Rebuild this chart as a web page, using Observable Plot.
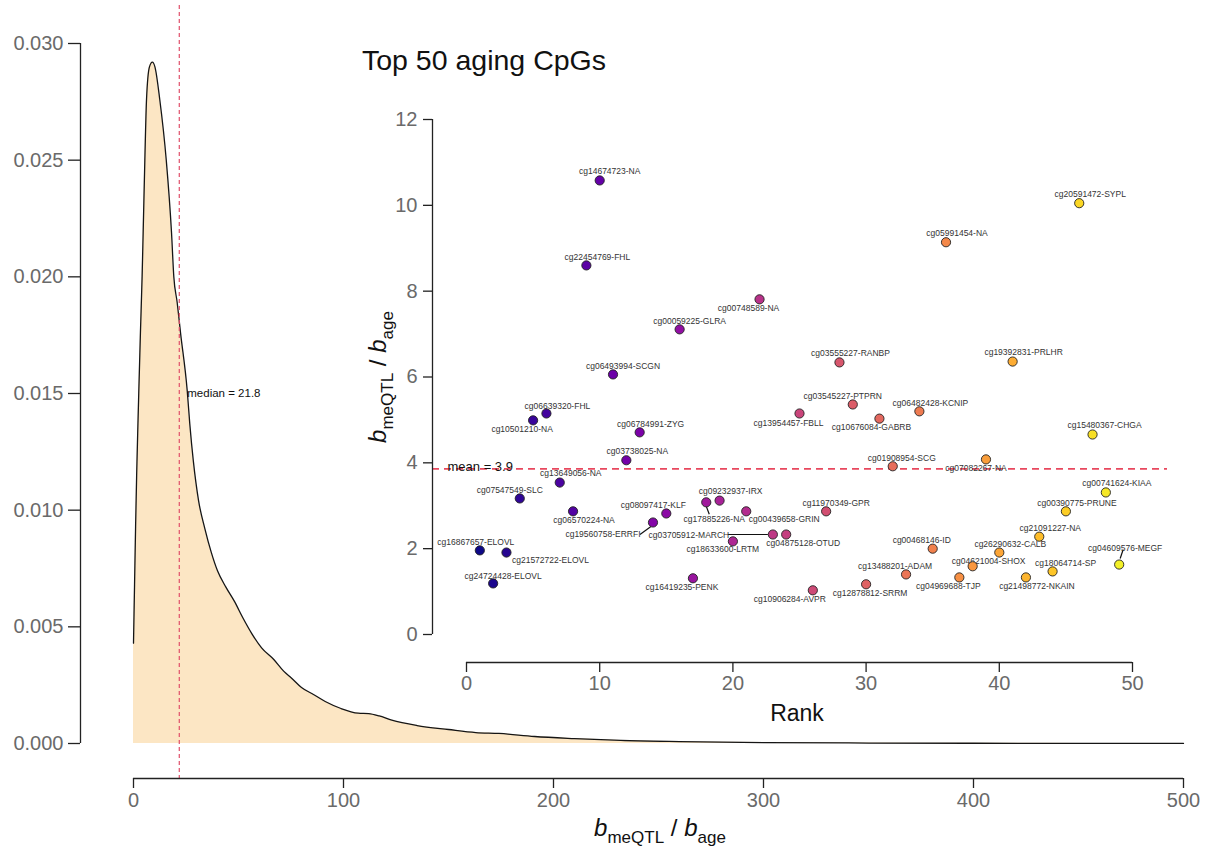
<!DOCTYPE html>
<html>
<head>
<meta charset="utf-8">
<script src="https://cdn.jsdelivr.net/npm/d3@7"></script>
<script src="https://cdn.jsdelivr.net/npm/@observablehq/plot@0.6"></script>
<style>
  body { margin: 0; background: #fff; }
  #wrap { position: relative; width: 1217px; height: 854px; overflow: hidden;
          font-family: "Liberation Sans", Arial, Helvetica, sans-serif; }
  #wrap svg { position: absolute; left: 0; top: 0; }
  .lbl { position: absolute; white-space: nowrap; color: #111; }
  .lbl sub { font-size: 17px; vertical-align: -7px; line-height: 0; }
  .lbl i { font-style: italic; }
</style>
</head>
<body>
<div id="wrap">
  <div class="lbl" id="xTitle" style="left:660px; top:816px; font-size:24px; line-height:24px; transform:translateX(-50%);"><i>b</i><sub>meQTL</sub> / <i>b</i><sub>age</sub></div>
  <div class="lbl" id="insetTitle" style="left:362px; top:46px; font-size:28.5px; line-height:28px;">Top 50 aging CpGs</div>
  <div class="lbl" id="insetYTitle" style="left:378px; top:377px; font-size:24px; line-height:24px; transform:translate(-50%,-50%) rotate(-90deg);"><i>b</i><sub>meQTL</sub> / <i>b</i><sub>age</sub></div>
  <div class="lbl" id="insetXTitle" style="left:797px; top:713px; font-size:23px; line-height:23px; transform:translate(-50%,-50%);">Rank</div>
</div>
<script>
const FONT = '"Liberation Sans", Arial, Helvetica, sans-serif';

// Genome-wide distribution of b_meQTL / b_age (kernel density)
const densityX = [0, 0.5, 1, 1.5, 2, 2.5, 3.3, 4.1, 4.6, 5.4, 6.2, 7.6, 9, 10.2, 12.5, 15.6, 18.1, 19.2,
  20.8, 22.4, 25.6, 26.8, 28.5, 31, 34, 37, 40, 44, 48, 52, 56.4, 61, 66.8, 71.5, 75.3, 80, 85.7, 91.3, 98.8,
  107, 112, 117, 123, 135, 150, 163, 174, 191, 210, 232, 260, 300, 350, 400, 450, 500];
const densityY = [0.0043, 0.0068, 0.0093, 0.0115, 0.0133, 0.0150, 0.0176, 0.0200, 0.0219, 0.0250, 0.0276,
  0.0290, 0.0292, 0.0290, 0.0276, 0.0250, 0.0219, 0.0200, 0.0189, 0.0176, 0.0151, 0.0137, 0.0121, 0.0104,
  0.0092, 0.0082, 0.0074, 0.0067, 0.0061, 0.0054, 0.0047, 0.0041, 0.0036, 0.0031, 0.0028, 0.0024, 0.0021,
  0.0018, 0.0015, 0.0013, 0.00128, 0.00118, 0.0010, 0.00077, 0.0006, 0.00047, 0.00043, 0.0003, 0.00021,
  0.00013, 0.00008, 0.00004, 0.00002, 0.00001, 0.000005, 0.000002];
const medianRatio = 21.8;
const densityXTicks = [0, 100, 200, 300, 400, 500];
const densityYTicks = [0, 0.005, 0.010, 0.015, 0.020, 0.025, 0.030];

// Top 50 aging CpGs, ordered by rank
const ranks = [1, 2, 3, 4, 5, 6, 7, 8, 9, 10, 11, 12, 13, 14, 15, 16, 17, 18, 19, 20, 21, 22, 23, 24, 25,
  26, 27, 28, 29, 30, 31, 32, 33, 34, 35, 36, 37, 38, 39, 40, 41, 42, 43, 44, 45, 46, 47, 48, 49];
const cpgIds = ["cg16867657", "cg24724428", "cg21572722", "cg07547549", "cg10501210", "cg06639320",
  "cg13649056", "cg06570224", "cg22454769", "cg14674723", "cg06493994", "cg03738025", "cg06784991",
  "cg19560758", "cg08097417", "cg00059225", "cg16419235", "cg17885226", "cg09232937", "cg18633600",
  "cg00439658", "cg00748589", "cg03705912", "cg04875128", "cg13954457", "cg10906284", "cg11970349",
  "cg03555227", "cg03545227", "cg12878812", "cg10676084", "cg01908954", "cg13488201", "cg06482428",
  "cg00468146", "cg05991454", "cg04969688", "cg04621004", "cg07082267", "cg26290632", "cg19392831",
  "cg21498772", "cg21091227", "cg18064714", "cg00390775", "cg20591472", "cg15480367", "cg00741624",
  "cg04609576"];
const genes = ["ELOVL", "ELOVL", "ELOVL", "SLC", "NA", "FHL", "NA", "NA", "FHL", "NA", "SCGN", "NA", "ZYG",
  "ERRFI", "KLF", "GLRA", "PENK", "NA", "IRX", "LRTM", "GRIN", "NA", "MARCH", "OTUD", "FBLL", "AVPR", "GPR",
  "RANBP", "PTPRN", "SRRM", "GABRB", "SCG", "ADAM", "KCNIP", "ID", "NA", "TJP", "SHOX", "NA", "CALB", "PRLHR",
  "NKAIN", "NA", "SP", "PRUNE", "SYPL", "CHGA", "KIAA", "MEGF"];
const ratios = [1.96, 1.19, 1.91, 3.17, 4.99, 5.15, 3.54, 2.87, 8.60, 10.58, 6.06, 4.06, 4.71, 2.61, 2.82,
  7.11, 1.31, 3.08, 3.12, 2.17, 2.87, 7.81, 2.33, 2.33, 5.15, 1.03, 2.87, 6.34, 5.36, 1.17, 5.03, 3.92,
  1.40, 5.20, 2.00, 9.14, 1.33, 1.59, 4.08, 1.91, 6.36, 1.33, 2.28, 1.47, 2.87, 10.05, 4.66, 3.31, 1.63];
const meanRatio = 3.86;
const rankTicks = [0, 10, 20, 30, 40, 50];
const ratioTicks = [0, 2, 4, 6, 8, 10, 12];

// Label placement: pixel offset of each label centre from its point
const labelNudge = [[-4, -8], [10, -7], [44, 8], [-10, -8], [-11, 9], [11, -7], [11, -9], [11, 9], [11, -8],
  [10, -9], [10, -8], [11, -9], [11, -8], [-50, 12], [-13, -8], [10, -8], [-11, 9], [8, 17], [11, -9],
  [-10, 8], [38, 8], [-11, 9], [-84, 1], [17, 9], [-11, 10], [-23, 9], [10, -8], [11, -9], [-10, -8],
  [4, 9], [-8, 9], [9, -8], [-11, -8], [11, -8], [-11, -8], [11, -9], [-11, 9], [16, -5], [-10, 9],
  [11, -8], [11, -9], [11, 9], [11, -8], [13, -8], [11, -8], [11, -9], [12, -9], [11, -9], [6, -16]];
// Leader lines for displaced labels: rank, then pixel offsets of both ends from the point
const leaders = [[14, -2, 4, -13, 12], [18, 0, 4, 3, 12], [23, -45, 0, -5, 0], [49, 1, -6, 4, -15]];

const wrap = document.getElementById("wrap");

// ---------- main panel: density ----------
const density = densityX.map((x, i) => ({x, y: densityY[i]}));
const main = Plot.plot({
  width: 1217, height: 854,
  marginLeft: 80, marginRight: 34, marginTop: 5, marginBottom: 76,
  style: {background: "transparent", fontFamily: FONT, overflow: "visible"},
  x: {domain: [0, 500], range: [133, 1183]},
  y: {domain: [0, 0.03], range: [743, 43]},
  marks: [
    Plot.areaY(density, {x: "x", y: "y", fill: "#fce6c4", curve: "monotone-x"}),
    Plot.line(density, {x: "x", y: "y", stroke: "#151515", strokeWidth: 1.3, curve: "monotone-x"}),
    Plot.ruleX([medianRatio], {stroke: "#e0506a", strokeWidth: 1.2, strokeDasharray: "4,3"}),
    Plot.text([medianRatio], {x: d => d, y: d3.max(densityYTicks) / 2, text: d => `median = ${d}`,
      dx: 8, textAnchor: "start", fontSize: 11.5, fill: "#111"}),
    Plot.ruleX([0], {y1: 0, y2: d3.max(densityYTicks), dx: -53, stroke: "#222", strokeWidth: 1.3}),
    Plot.axisY({ticks: densityYTicks, tickFormat: d3.format(".3f"), tickSize: 12, tickPadding: 5,
      fontSize: 20, label: null, stroke: "#222", strokeWidth: 1.3, fill: "#6a6a6a"}),
    Plot.ruleY([0], {x1: 0, x2: d3.max(densityXTicks), dy: 35, stroke: "#222", strokeWidth: 1.3}),
    Plot.axisX({ticks: densityXTicks, tickSize: 10, tickPadding: 4, fontSize: 20, label: null,
      stroke: "#222", strokeWidth: 1.3, fill: "#6a6a6a"})
  ]
});
wrap.insertBefore(main, wrap.firstChild);

// ---------- inset: top 50 CpGs ----------
const xDomain = [0, 50], xRange = [466, 1132];
const yDomain = [0, 12], yRange = [634, 119];
const sx = Plot.scale({x: {domain: xDomain, range: xRange}});
const sy = Plot.scale({y: {domain: yDomain, range: yRange}});

const cpgs = ranks.map((rank, i) => ({
  rank, ratio: ratios[i], label: `${cpgIds[i]}-${genes[i]}`,
  lx: sx.invert(sx.apply(rank) + labelNudge[i][0]),
  ly: sy.invert(sy.apply(ratios[i]) + labelNudge[i][1])
}));
const leaderLinks = leaders.map(([rank, ax, ay, bx, by]) => {
  const d = cpgs.find(c => c.rank === rank);
  const px = sx.apply(d.rank), py = sy.apply(d.ratio);
  return {x1: sx.invert(px + ax), y1: sy.invert(py + ay), x2: sx.invert(px + bx), y2: sy.invert(py + by)};
});

const inset = Plot.plot({
  width: 1217, height: 854,
  marginLeft: 432, marginRight: 50, marginTop: 100, marginBottom: 192,
  style: {background: "transparent", fontFamily: FONT, overflow: "visible"},
  x: {domain: xDomain, range: xRange},
  y: {domain: yDomain, range: yRange},
  color: {type: "sequential", scheme: "plasma", domain: [1, 50]},
  marks: [
    Plot.ruleY([meanRatio], {stroke: "#e8485e", strokeWidth: 1.6, strokeDasharray: "7,5"}),
    Plot.text([meanRatio], {y: d => d, frameAnchor: "left", text: d => `mean = ${d.toFixed(1)}`,
      dx: 15, dy: 2, textAnchor: "start", lineAnchor: "bottom", fontSize: 13, fill: "#111"}),
    Plot.link(leaderLinks, {x1: "x1", y1: "y1", x2: "x2", y2: "y2", stroke: "#111", strokeWidth: 1.2}),
    Plot.text(cpgs, {x: "lx", y: "ly", text: "label", fontSize: 8.5, fill: "#333", textAnchor: "middle"}),
    Plot.dot(cpgs, {x: "rank", y: "ratio", r: 4.6, fill: "rank", stroke: "#222", strokeWidth: 0.9}),
    Plot.ruleX([0], {y1: 0, y2: d3.max(ratioTicks), dx: -34, stroke: "#222", strokeWidth: 1.3}),
    Plot.axisY({ticks: ratioTicks, tickSize: 9, tickPadding: 6, fontSize: 20, label: null,
      stroke: "#222", strokeWidth: 1.3, fill: "#6a6a6a"}),
    Plot.ruleY([0], {x1: 0, x2: d3.max(rankTicks), dy: 28, stroke: "#222", strokeWidth: 1.3}),
    Plot.axisX({ticks: rankTicks, tickSize: 10, tickPadding: 3, fontSize: 20, label: null,
      stroke: "#222", strokeWidth: 1.3, fill: "#6a6a6a"})
  ]
});
wrap.insertBefore(inset, main.nextSibling);
</script>
</body>
</html>
